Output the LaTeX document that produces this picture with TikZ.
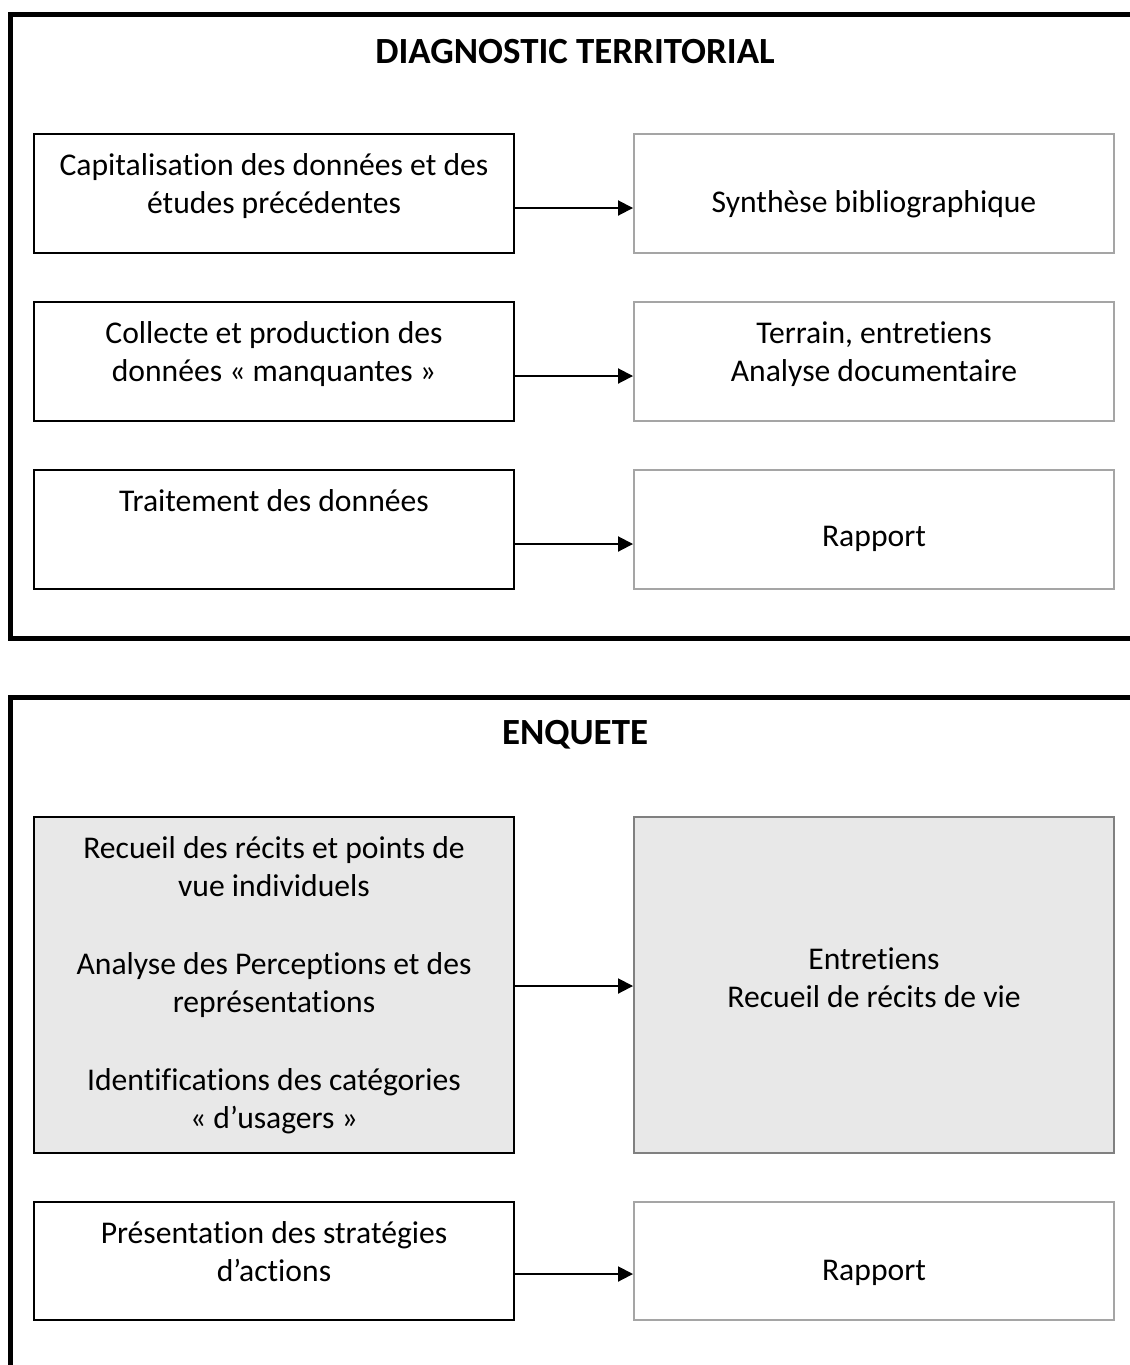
\documentclass[tikz,border=0pt]{standalone}
\usepackage{fontspec}
\setmainfont{Carlito}[Ligatures=NoCommon]
\usetikzlibrary{calc, positioning, arrows.meta}
\definecolor{boxgray}{RGB}{232,232,232}
\definecolor{edgegray}{RGB}{165,165,165}
\definecolor{darkedge}{RGB}{128,128,128}
\newcommand\xleft{5.48}
\newcommand\xright{17.48}
\newcommand\stepbox[6]{\node[#5] (#1) at (#2,#3) {\parbox[c][#4][t]{9.6cm}{\centering\vspace*{11pt}#6}};}

\tikzset{
  actstep/.style={draw=black, fill=white, line width=1.1pt, inner sep=0pt, font=\fontsize{18}{22}\selectfont},
  resstep/.style={actstep, draw=edgegray},
  shaded/.style={fill=boxgray},
  frame/.style={line width=2.85pt},
  heading/.style={font=\fontsize{21}{25}\selectfont\bfseries},
  flow/.style={-{Triangle[length=0.3cm,width=0.3cm]}, line width=1.1pt}
}

\begin{document}
\begin{tikzpicture}
\clip (0,0) rectangle (22.6,-27.3);

% frames
\draw[frame] (23.5,-0.29) -- (0.21,-0.29) -- (0.21,-12.76) -- (23.5,-12.76);
\draw[frame] (23.5,-13.94) -- (0.21,-13.94) -- (0.21,-28);

\node[heading] (diag) at (11.5,-1.04) {DIAGNOSTIC TERRITORIAL};
\node[heading] (enq) at (11.5,-14.7) {ENQUETE};

% diagnostic
\stepbox{cap}{\xleft}{-3.87}{2.38cm}{actstep}{Capitalisation des données et des\\études précédentes}
\stepbox{syn}{\xright}{-3.87}{2.38cm}{resstep}{\vspace*{0.74cm}Synthèse bibliographique}
\stepbox{col}{\xleft}{-7.23}{2.38cm}{actstep}{Collecte et production des\\données « manquantes »}
\stepbox{ter}{\xright}{-7.23}{2.38cm}{resstep}{Terrain, entretiens\\Analyse documentaire}
\stepbox{trt}{\xleft}{-10.59}{2.38cm}{actstep}{Traitement des données}
\stepbox{rap}{\xright}{-10.59}{2.38cm}{resstep}{\vspace*{0.74cm}Rapport}

% enquete
\stepbox{rec}{\xleft}{-19.70}{6.72cm}{actstep, shaded}{Recueil des récits et points de\\vue individuels\\[22pt]Analyse des Perceptions et des\\représentations\\[22pt]Identifications des catégories\\« d’usagers »}
\stepbox{ent}{\xright}{-19.70}{6.72cm}{actstep, shaded, draw=darkedge}{\vspace*{2.22cm}Entretiens\\Recueil de récits de vie}
\stepbox{pre}{\xleft}{-25.22}{2.36cm}{actstep}{Présentation des stratégies\\d’actions}
\stepbox{rap2}{\xright}{-25.22}{2.36cm}{resstep}{\vspace*{0.78cm}Rapport}

%\draw[flow] (cap) -- (syn);
\draw[flow] ([yshift=-0.29cm]cap.east) -- ([yshift=-0.29cm]syn.west);
\draw[flow] ([yshift=-0.29cm]col.east) -- ([yshift=-0.29cm]ter.west);
\draw[flow] ([yshift=-0.29cm]trt.east) -- ([yshift=-0.29cm]rap.west);
\draw[flow] ([yshift=-0.02cm]rec.east) -- ([yshift=-0.02cm]ent.west);
\draw[flow] ([yshift=-0.26cm]pre.east) -- ([yshift=-0.26cm]rap2.west);

\end{tikzpicture}
\end{document}
